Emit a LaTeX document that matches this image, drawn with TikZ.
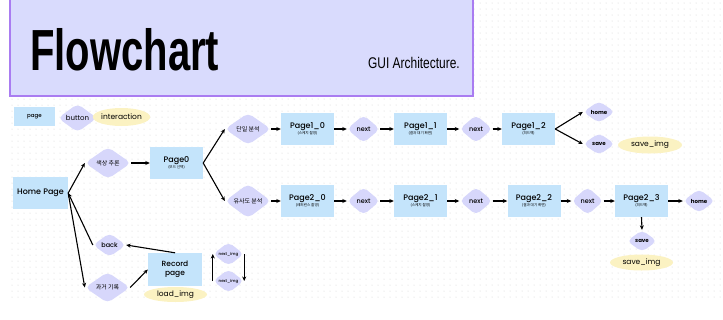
\documentclass[tikz,border=0pt]{standalone}
\usepackage{fontspec}
\usepackage{graphicx}
\setmainfont{Poppins}
\IfFontExistsTF{Poppins Medium}
  {\newfontfamily\medfont{Poppins Medium}}
  {\newfontfamily\medfont{Poppins}[FakeBold=1.2]}
\newfontfamily\kr{Noto Sans CJK KR}
\newfontfamily\headfont{Liberation Sans}
\usetikzlibrary{shapes.geometric,arrows.meta}

\definecolor{pagefill}{HTML}{C4E4FB}
\definecolor{btnfill}{HTML}{D7D7FB}
\definecolor{intfill}{HTML}{FBF2C2}
\definecolor{hdrfill}{HTML}{D9DBFD}
\definecolor{hdrline}{HTML}{A97CF1}
\definecolor{gridc}{HTML}{D0D0D0}

\newcommand\pgtext[2]{{\medfont #1}\\[-3pt]{\kr\fontsize{3.6}{4}\selectfont #2}}

\tikzset{
  pagebox/.style={rectangle, fill=pagefill, minimum width=53pt, minimum height=32pt,
    inner sep=0pt, align=center, font=\fontsize{8}{8.5}\selectfont},
  btn/.style={diamond, fill=btnfill, inner sep=0pt, rounded corners=5pt,
    minimum width=33pt, minimum height=28pt, font=\medfont\fontsize{6.5}{7}\selectfont},
  krbtn/.style={btn, minimum width=46pt, minimum height=32pt, font=\kr\fontsize{6}{7}\selectfont},
  smallbtn/.style={btn, minimum width=32pt, minimum height=22pt, font=\bfseries\fontsize{5.5}{6}\selectfont},
  inter/.style={ellipse, fill=intfill, inner sep=0pt, font=\fontsize{7.5}{8}\selectfont},
  arr/.style={-{Stealth[length=4.5pt,width=4pt]}, line width=1.1pt, black},
}

\begin{document}
\begin{tikzpicture}[x=1pt,y=-1pt]
\useasboundingbox (0,0) rectangle (723,319);

% dotted background grid
\foreach \gy in {3,9,...,297}
  \draw[gridc, line width=1pt, line cap=round, dash pattern=on 0pt off 6pt] (12,\gy) -- (723,\gy);

% header banner
\fill[hdrfill] (10,-3) rectangle (473,96);
\draw[hdrline, line width=1.2pt] (10,-3) rectangle (473,96);
\node[anchor=base west, inner sep=0pt] (title) at (30,70)
  {\headfont\bfseries\fontsize{58}{58}\selectfont\scalebox{0.69}[1]{Flowchart}};
\node[anchor=base west, inner sep=0pt] (subtitle) at (368,68)
  {\headfont\fontsize{15.5}{16}\selectfont\scalebox{0.77}[1]{GUI Architecture.}};

% legend
\node[pagebox, minimum width=41pt, minimum height=19pt, font=\medfont\fontsize{5.5}{6}\selectfont] (lpage) at (34.5,116.5) {page};
\node[btn, minimum width=39pt, minimum height=23pt, font=\fontsize{7}{8}\selectfont] (lbtn) at (77.5,118) {button};
\node[inter, minimum width=53pt, minimum height=18pt] (lint) at (121.5,117) {interaction};

% main flow
\node[pagebox, minimum width=55pt, font=\medfont\fontsize{8}{9}\selectfont] (home) at (40.5,193) {Home Page};
\node[krbtn] (color) at (108,163) {색상 추론};
\node[pagebox] (p0) at (176.5,163) {\pgtext{Page0}{(모드 선택)}};

% single analysis row
\node[krbtn] (single) at (248,129) {단일 분석};
\node[pagebox] (p10) at (307.5,129) {\pgtext{Page1\_0}{(스케치 촬영)}};
\node[btn] (n11) at (363.5,129) {next};
\node[pagebox] (p11) at (420.5,129) {\pgtext{Page1\_1}{(결과 대기 화면)}};
\node[btn] (n12) at (476,129) {next};
\node[pagebox] (p12) at (528.5,129) {\pgtext{Page1\_2}{(피드백)}};
\node[smallbtn] (home1) at (599,112) {home};
\node[smallbtn] (save1) at (599,144) {save};
\node[inter, minimum width=64pt, minimum height=17pt] (simg1) at (650,145) {save\_img};

% similarity analysis row
\node[krbtn] (simil) at (248,201) {유사도 분석};
\node[pagebox] (p20) at (307.5,201) {\pgtext{Page2\_0}{(레퍼런스 촬영)}};
\node[btn] (n21) at (363.5,201) {next};
\node[pagebox] (p21) at (420.5,201) {\pgtext{Page2\_1}{(스케치 촬영)}};
\node[btn] (n22) at (476,201) {next};
\node[pagebox] (p22) at (534,201) {\pgtext{Page2\_2}{(결과 대기 화면)}};
\node[btn, minimum width=32pt] (n23) at (587.5,201) {next};
\node[pagebox] (p23) at (641.5,201) {\pgtext{Page2\_3}{(피드백)}};
\node[smallbtn, minimum height=24pt] (home2) at (699,201) {home};
\node[smallbtn, minimum width=30pt] (save2) at (642,241) {save};
\node[inter, minimum width=63pt, minimum height=16pt] (simg2) at (641.5,262.5) {save\_img};

% history branch
\node[smallbtn, minimum width=33pt, minimum height=24pt, font=\medfont\fontsize{6.5}{7}\selectfont] (back) at (109.5,245) {back};
\node[krbtn, minimum width=45pt, minimum height=31pt] (past) at (107.5,287.5) {과거 기록};
\node[pagebox, minimum width=54pt, minimum height=33pt, font=\medfont\fontsize{7.5}{9}\selectfont] (rec) at (175,269.5) {Record\\page};
\node[inter, minimum width=63pt, minimum height=15pt] (limg) at (175.5,294.5) {load\_img};
\node[btn, minimum width=31pt, minimum height=22pt, font=\medfont\fontsize{4}{5}\selectfont] (ni1) at (228.5,254) {next\_img};
\node[btn, minimum width=31pt, minimum height=22pt, font=\medfont\fontsize{4}{5}\selectfont] (ni2) at (228.5,281) {next\_img};

% connectors
\draw[arr] (home.east) -- (color.west);
\draw[arr] (back.west) -- (home.east);
\draw[arr] (home.east) -- (past.west);
\draw[arr] (color.east) -- (p0.west);
\draw[arr] (p0.east) -- (single.west);
\draw[arr] (p0.east) -- (simil.west);

\draw[arr] (single.east) -- (p10.west);
\draw[arr] (p10.east) -- (n11.west);
\draw[arr] (n11.east) -- (p11.west);
\draw[arr] (p11.east) -- (n12.west);
\draw[arr] (n12.east) -- (p12.west);
\draw[arr] (p12.east) -- (home1.west);
\draw[arr] (p12.east) -- (save1.west);

\draw[arr] (simil.east) -- (p20.west);
\draw[arr] (p20.east) -- (n21.west);
\draw[arr] (n21.east) -- (p21.west);
\draw[arr] (p21.east) -- (n22.west);
\draw[arr] (n22.east) -- (p22.west);
\draw[arr] (p22.east) -- (n23.west);
\draw[arr] (n23.east) -- (p23.west);
\draw[arr] (p23.east) -- (home2.west);
\draw[arr] (p23.south) -- (save2.north);

\draw[arr] (past.east) -- (rec.west);
\draw[arr] (rec.north) -- (back.east);
\draw[arr] (ni2.west) -- (ni1.west);
\draw[arr] (ni1.east) -- (ni2.east);
\end{tikzpicture}
\end{document}
